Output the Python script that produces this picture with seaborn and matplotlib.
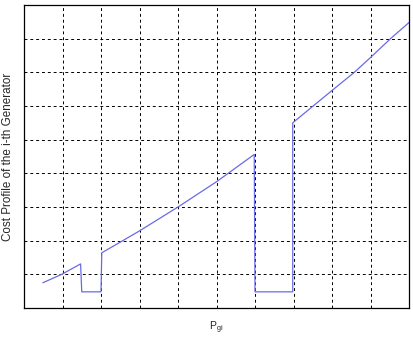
import matplotlib
matplotlib.use("Agg")
import matplotlib.pyplot as plt
import seaborn as sns
import pandas as pd

# Piecewise cost profile (data units: x 0..10, y 0..9)
seg1_x = [0.49, 0.98, 1.47]
seg1_y = [0.75, 1.00, 1.31]
gap1_x = [1.50, 2.00, 2.02]
gap1_y = [0.48, 0.48, 1.64]
seg2_x = [2.49, 3.00, 4.00, 5.00, 5.98]
seg2_y = [1.95, 2.29, 3.00, 3.75, 4.56]
gap2_x = [6.00, 6.98, 6.98]
gap2_y = [0.48, 0.48, 5.50]
seg3_x = [7.51, 8.00, 8.58, 9.00, 9.52, 10.0]
seg3_y = [6.00, 6.46, 7.00, 7.44, 8.00, 8.48]

xs = seg1_x + gap1_x + seg2_x + gap2_x + seg3_x
ys = seg1_y + gap1_y + seg2_y + gap2_y + seg3_y
df = pd.DataFrame({"P": xs, "C": ys})

sns.set_style("white")
plt.rcParams["font.family"] = ["Liberation Sans", "DejaVu Sans"]

fig = plt.figure(figsize=(4.14, 3.38), dpi=100)
ax = fig.add_axes([24/414, 30/338, 385/414, 303/338])

sns.lineplot(data=df, x="P", y="C", sort=False, ax=ax, color="#6a6ae6",
             linewidth=0.9, estimator=None)

ax.set_xlim(0, 10)
ax.set_ylim(0, 9)
ax.set_xticks(range(0, 11))
ax.set_yticks(range(0, 10))
ax.set_xticklabels([])
ax.set_yticklabels([])
ax.tick_params(length=0)
ax.grid(True, color="black", linestyle=(0, (3, 3)), linewidth=0.7)
for s in ax.spines.values():
    s.set_color("black")
    s.set_linewidth(0.9)
    s.set_visible(True)

ax.set_xlabel(r"P$_{\mathregular{gi}}$", fontsize=7.5, labelpad=5)
ax.set_ylabel("Cost Profile of the i-th Generator", fontsize=8.4, labelpad=4)

fig.savefig("out.png", dpi=100)
